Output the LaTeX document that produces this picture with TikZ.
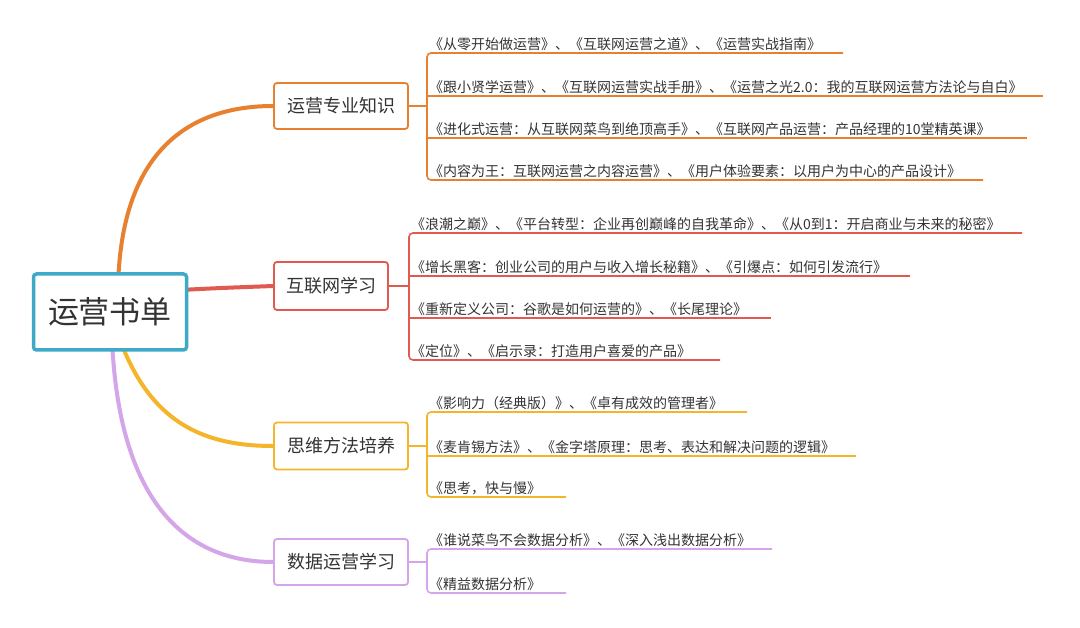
\documentclass[tikz,border=0pt]{standalone}
\usepackage{fontspec}
\setmainfont{Noto Sans CJK SC}
\begin{document}
\begin{tikzpicture}[x=1pt,y=-1pt,
  branch/.style={draw=#1,line width=1.8pt,rounded corners=3pt,fill=white,text=black!80,font=\fontsize{18}{20}\selectfont,minimum width=134pt,minimum height=46pt,inner sep=2pt},
  leaf/.style={anchor=south west,inner sep=1pt,text=black!80,font=\fontsize{14}{16}\selectfont},
  uline/.style={draw=#1,line width=1.6pt,rounded corners=4pt}]
\definecolor{corange}{HTML}{E8812F}
\definecolor{cred}{HTML}{E05A4F}
\definecolor{cyellow}{HTML}{F5B52A}
\definecolor{cpurple}{HTML}{D4A5E8}
\definecolor{cblue}{HTML}{3FA9C9}
\useasboundingbox (0,0) rectangle (1080,628);
\fill[white] (0,0) rectangle (1080,628);

% branches
\node[branch=corange] (b1) at (341,106) {运营专业知识};
\node[branch=cred,minimum width=114pt,minimum height=48pt] (b2) at (331,286) {互联网学习};
\node[branch=cyellow,minimum height=47pt] (b3) at (341,446) {思维方法培养};
\node[branch=cpurple] (b4) at (341,562) {数据运营学习};

% curves from root
\coordinate (r1) at (118,290);
\coordinate (r2) at (180,290);
\coordinate (r3) at (120,340);
\coordinate (r4) at (112,340);
\draw[corange,line width=4pt] (r1) .. controls (120,150) and (190,106) .. (b1.west);
\draw[cred,line width=4pt] (r2) .. controls (220,288) .. (b2.west);
\draw[cyellow,line width=4pt] (r3) .. controls (150,420) and (200,446) .. (b3.west);
\draw[cpurple,line width=4pt] (r4) .. controls (120,520) and (200,562) .. (b4.west);

\node[draw=cblue,line width=3.5pt,rounded corners=3pt,fill=white,text=black!80,font=\fontsize{31}{36}\selectfont,minimum width=153pt,minimum height=76pt,inner sep=2pt] (root) at (110,312) {运营书单};

% orange leaves
\draw[uline=corange] (b1.east) -- (427,106);
\node[leaf] (l11) at (428,52) {《从零开始做运营》、《互联网运营之道》、《运营实战指南》};
\node[leaf] (l12) at (428,95) {《跟小贤学运营》、《互联网运营实战手册》、《运营之光2.0：我的互联网运营方法论与自白》};
\node[leaf] (l13) at (428,137) {《进化式运营：从互联网菜鸟到绝顶高手》、《互联网产品运营：产品经理的10堂精英课》};
\node[leaf] (l14) at (428,179) {《内容为王：互联网运营之内容运营》、《用户体验要素：以用户为中心的产品设计》};
\draw[uline=corange] (843,53) -- (427,53) -- (427,180) -- (983,180);
\draw[uline=corange] (427,96) -- (1043,96);
\draw[uline=corange] (427,138) -- (1027,138);

% red leaves
\draw[uline=cred] (b2.east) -- (409,286);
\node[leaf] (l21) at (410,232) {《浪潮之巅》、《平台转型：企业再创巅峰的自我革命》、《从0到1：开启商业与未来的秘密》};
\node[leaf] (l22) at (410,275) {《增长黑客：创业公司的用户与收入增长秘籍》、《引爆点：如何引发流行》};
\node[leaf] (l23) at (410,317) {《重新定义公司：谷歌是如何运营的》、《长尾理论》};
\node[leaf] (l24) at (410,359) {《定位》、《启示录：打造用户喜爱的产品》};
\draw[uline=cred] (1022,233) -- (409,233) -- (409,360) -- (720,360);
\draw[uline=cred] (409,276) -- (910,276);
\draw[uline=cred] (409,318) -- (771,318);

% yellow leaves
\draw[uline=cyellow] (b3.east) -- (427,446);
\node[leaf] (l31) at (428,411) {《影响力（经典版）》、《卓有成效的管理者》};
\node[leaf] (l32) at (428,455) {《麦肯锡方法》、《金字塔原理：思考、表达和解决问题的逻辑》};
\node[leaf] (l33) at (428,496) {《思考，快与慢》};
\draw[uline=cyellow] (747,412) -- (427,412) -- (427,497) -- (566,497);
\draw[uline=cyellow] (427,456) -- (856,456);

% purple leaves
\draw[uline=cpurple] (b4.east) -- (427,562);
\node[leaf] (l41) at (428,548) {《谁说菜鸟不会数据分析》、《深入浅出数据分析》};
\node[leaf] (l42) at (428,592) {《精益数据分析》};
\draw[uline=cpurple] (772,549) -- (427,549) -- (427,593) -- (566,593);
\end{tikzpicture}
\end{document}
